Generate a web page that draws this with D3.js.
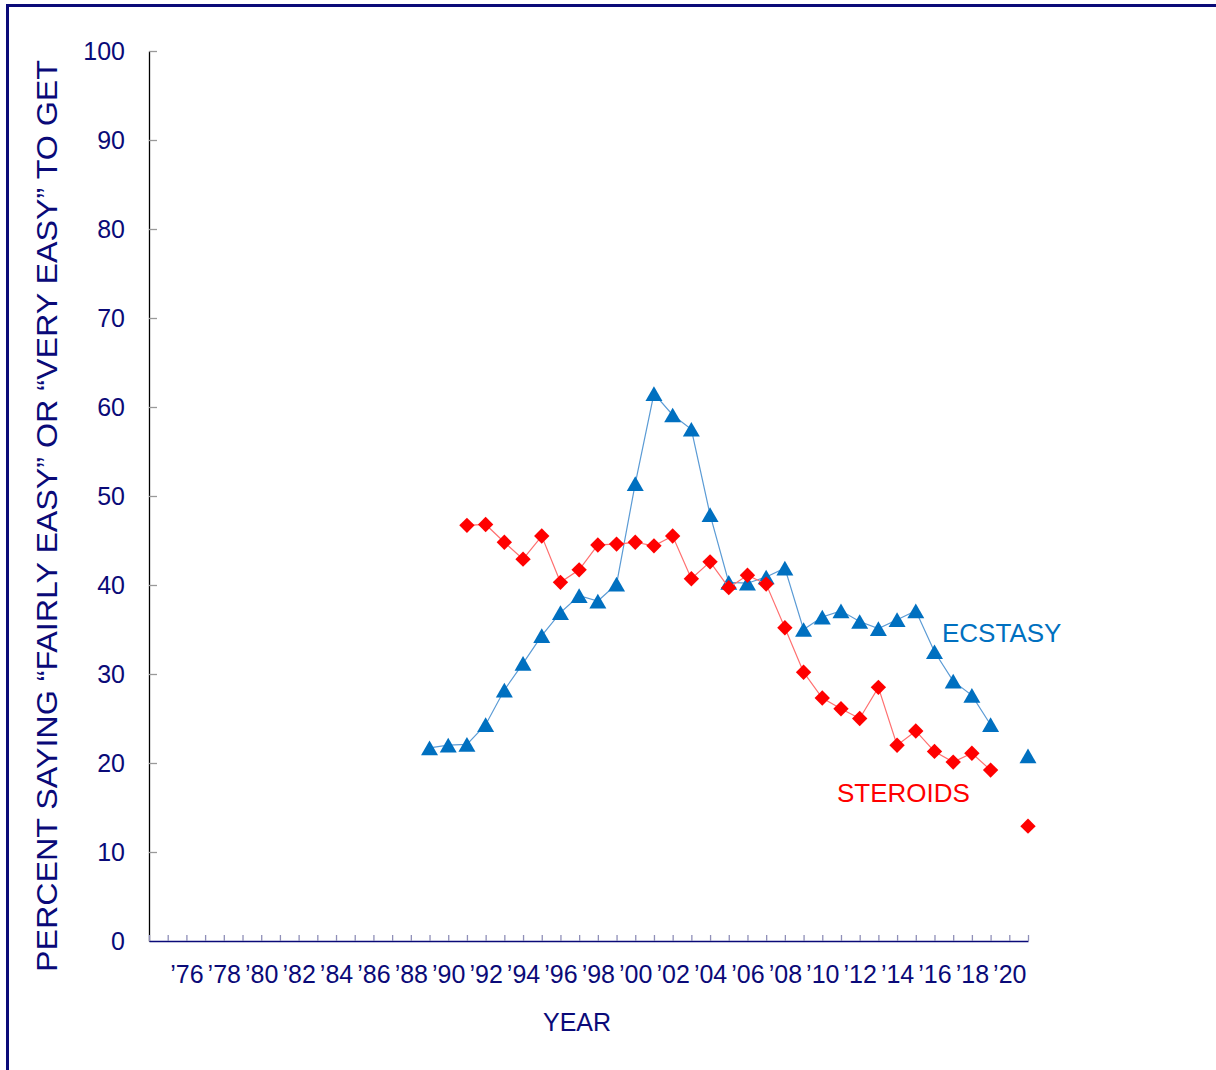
<!DOCTYPE html>
<html>
<head>
<meta charset="utf-8">
<script src="https://cdn.jsdelivr.net/npm/d3@7"></script>
<style>
  body { margin: 0; background: #fff; }
  svg { display: block; font-family: "Liberation Sans", Arial, sans-serif; }
</style>
</head>
<body>
<svg id="chart" width="1216" height="1070"></svg>
<script>
// axis categories: every year from 1974 to 2021
const axisYears = d3.range(1974, 2022);
const labelYears = d3.range(1976, 2021, 2);
const yTicks = d3.range(0, 101, 10);

// survey years with data (2020 missing)
const dataYears = [1989, 1990, 1991, 1992, 1993, 1994, 1995, 1996, 1997, 1998,
  1999, 2000, 2001, 2002, 2003, 2004, 2005, 2006, 2007, 2008, 2009, 2010, 2011,
  2012, 2013, 2014, 2015, 2016, 2017, 2018, 2019, 2020, 2021];

const ecstasy = [21.7, 22.0, 22.1, 24.3, 28.2, 31.2, 34.3, 36.9, 38.8, 38.2,
  40.1, 51.4, 61.5, 59.1, 57.5, 47.9, 40.3, 40.2, 40.9, 41.9, 35.0, 36.4, 37.1,
  35.9, 35.1, 36.1, 37.1, 32.5, 29.2, 27.6, 24.3, null, 20.8];

const steroids = [null, null, 46.7, 46.8, 44.8, 42.9, 45.5, 40.3, 41.7, 44.5,
  44.6, 44.8, 44.4, 45.5, 40.7, 42.6, 39.7, 41.1, 40.1, 35.2, 30.2, 27.3, 26.1,
  25.0, 28.5, 22.0, 23.6, 21.3, 20.1, 21.1, 19.2, null, 12.9];

const navy = "#0a0a78";
const svg = d3.select("#chart");

// triangle centred on its bounding box, like the spreadsheet markers
const boxTriangle = {
  draw(ctx, size) {
    const s = Math.sqrt(size * 4 / Math.sqrt(3));
    const h = s * Math.sqrt(3) / 2;
    ctx.moveTo(0, -h / 2);
    ctx.lineTo(s / 2, h / 2);
    ctx.lineTo(-s / 2, h / 2);
    ctx.closePath();
  },
};

// frame
svg.append("rect")
  .attr("x", 7.5).attr("y", 5.5)
  .attr("width", 1240).attr("height", 1100)
  .attr("fill", "none")
  .attr("stroke", navy)
  .attr("stroke-width", 3);

const x = d3.scalePoint().domain(axisYears).range([149, 1028]);
const y = d3.scaleLinear().domain([0, 100]).range([941, 51]);

// y axis
const yAxis = svg.append("g")
  .attr("transform", "translate(149,0)")
  .call(d3.axisLeft(y).tickValues(yTicks).tickSizeInner(-8).tickSizeOuter(0).tickPadding(24));
yAxis.select(".domain").attr("stroke", "#000").attr("stroke-width", 1.3);
yAxis.selectAll(".tick line").attr("stroke", "#999").attr("stroke-width", 1.3)
  .filter(d => d === 0).remove();
yAxis.selectAll(".tick text")
  .attr("fill", navy)
  .style("font-size", "25px")
  .style("font-family", "'Liberation Sans', Arial, sans-serif");

// x axis
const xAxis = svg.append("g")
  .attr("transform", "translate(0,941)")
  .call(d3.axisBottom(x)
    .tickSizeInner(-6).tickSizeOuter(0).tickPadding(24)
    .tickFormat(d => labelYears.includes(d) ? "\u2019" + String(d).slice(2) : ""));
xAxis.select(".domain").attr("stroke", navy).attr("stroke-width", 1.5);
xAxis.selectAll(".tick line").attr("stroke", "#8f8fb8").attr("stroke-width", 1.3);
xAxis.selectAll(".tick text")
  .attr("fill", navy)
  .style("font-size", "25px")
  .style("font-family", "'Liberation Sans', Arial, sans-serif");

// axis titles
svg.append("text")
  .attr("x", 577).attr("y", 1031)
  .attr("text-anchor", "middle")
  .attr("fill", navy)
  .style("font-size", "25px")
  .text("YEAR");

svg.append("text")
  .attr("transform", "translate(57,516) rotate(-90)")
  .attr("text-anchor", "middle")
  .attr("fill", navy)
  .style("font-size", "30px")
  .attr("textLength", 912)
  .attr("lengthAdjust", "spacingAndGlyphs")
  .text("PERCENT SAYING \u201CFAIRLY EASY\u201D OR \u201CVERY EASY\u201D TO GET");

// series
const series = [
  { name: "ECSTASY", values: ecstasy, line: "#5b9bd5", mark: "#0070c0", symbol: boxTriangle, size: 125, rot: 0, lx: 942, ly: 642 },
  { name: "STEROIDS", values: steroids, line: "#ff7070", mark: "#ff0000", symbol: d3.symbolSquare, size: 118, rot: 45, lx: 837, ly: 802 },
];

series.forEach(s => {
  const pts = dataYears.map((yr, i) => ({ yr, v: s.values[i] }));
  const line = d3.line()
    .defined(d => d.v != null)
    .x(d => x(d.yr))
    .y(d => y(d.v));

  // no line across the missing 2020 survey
  const segs = [pts.filter(d => d.yr <= 2019), pts.filter(d => d.yr >= 2021)];
  segs.forEach(seg => {
    svg.append("path")
      .datum(seg)
      .attr("fill", "none")
      .attr("stroke", s.line)
      .attr("stroke-width", 1.2)
      .attr("d", line);
  });

  svg.append("g")
    .selectAll("path")
    .data(pts.filter(d => d.v != null))
    .join("path")
    .attr("transform", d => `translate(${x(d.yr)},${y(d.v)}) rotate(${s.rot})`)
    .attr("d", d3.symbol().type(s.symbol).size(s.size))
    .attr("fill", s.mark);

  svg.append("text")
    .attr("x", s.lx).attr("y", s.ly)
    .attr("fill", s.mark)
    .style("font-size", "26px")
    .text(s.name);
});
</script>
</body>
</html>
